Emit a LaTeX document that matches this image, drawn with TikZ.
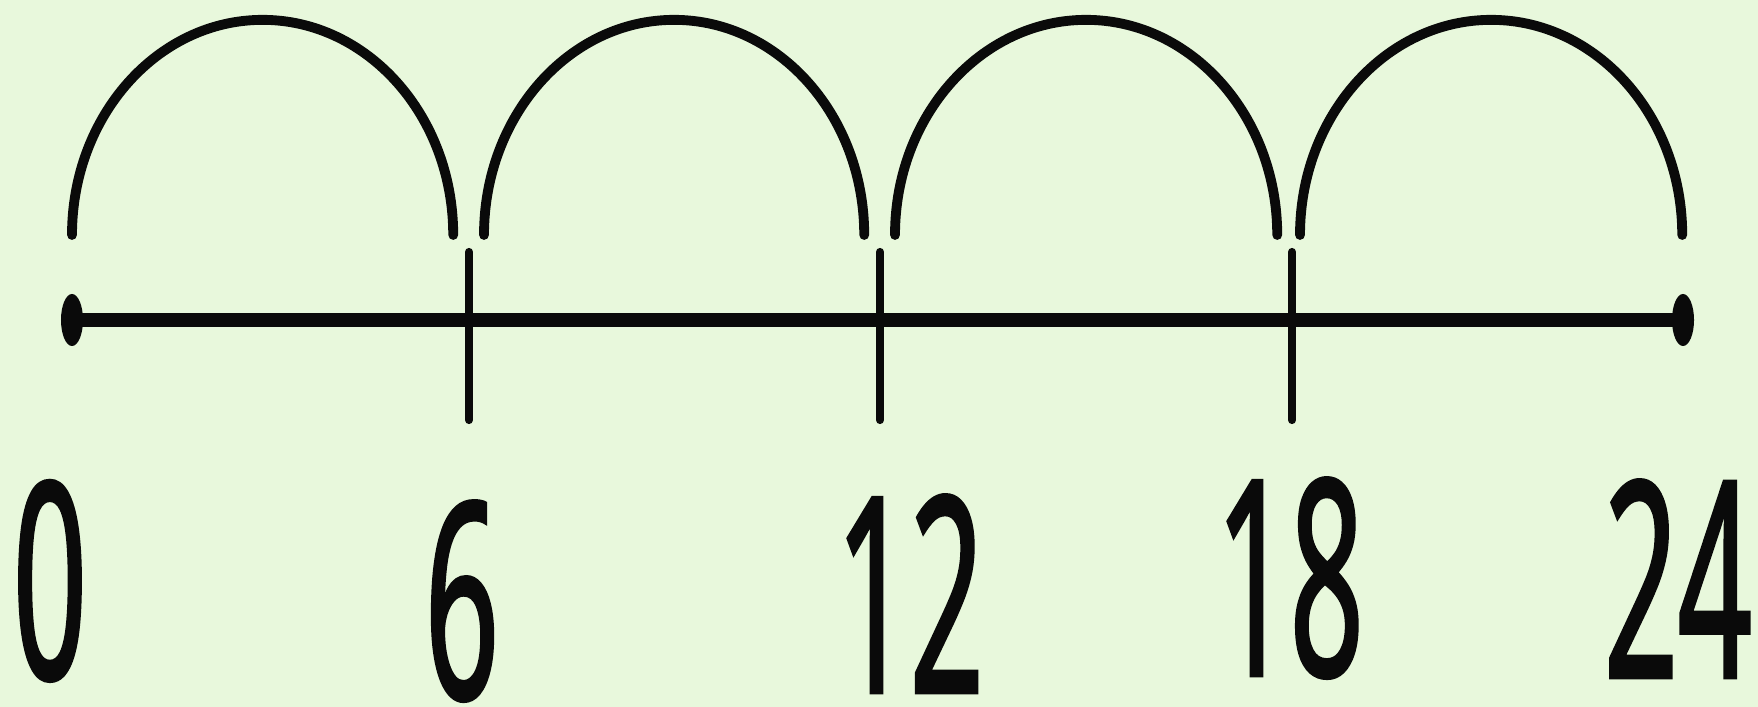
\documentclass[tikz,border=0pt]{standalone}
\usepackage{fontspec}
\newfontfamily\numfont[FakeStretch=0.47,FakeBold=1]{Noto Sans}
\usepackage{xcolor}
\definecolor{cBack}{HTML}{E8F8DC}
\definecolor{cInk}{HTML}{0A0A0A}
\usepackage{tikz}
\usetikzlibrary{positioning}
\tikzset{
  num-line/.style={draw=cInk,line width=4pt},
  num-tick/.style={draw=cInk,line width=2.3pt,line cap=round},
  num-jump/.style={draw=cInk,line width=2.8pt,line cap=round},
  num-dot/.style={fill=cInk},
  num-label/.style={anchor=base,inner sep=0pt,text=cInk,
    font=\numfont\fontsize{78}{90}\selectfont},
}

\begin{document}
\begin{tikzpicture}[x=0.01cm,y=0.01cm]
  \fill[cBack] (0,0) rectangle (1758,707);
  \useasboundingbox (0,0) rectangle (1758,707);
  % points on the line
  \coordinate (n0) at (72,387);
  \coordinate (n6) at (469,387);
  \coordinate (n12) at (880,387);
  \coordinate (n18) at (1292,387);
  \coordinate (n24) at (1683,387);
  \draw[num-line] (n0) -- (n24);
  \fill[num-dot] (n0) ellipse [x radius=0.11cm,y radius=0.26cm];
  \fill[num-dot] (n24) ellipse [x radius=0.11cm,y radius=0.26cm];
  \draw[num-tick] ([yshift=-1.0cm]n6) -- ([yshift=0.68cm]n6);
  \draw[num-tick] ([yshift=-1.0cm]n12) -- ([yshift=0.68cm]n12);
  \draw[num-tick] ([yshift=-1.0cm]n18) -- ([yshift=0.68cm]n18);
  % jumps of six
  \coordinate (j1) at (72,472);
  \coordinate (j2) at (484,472);
  \coordinate (j3) at (895,472);
  \coordinate (j4) at (1300,472);
  \draw[num-jump] (j1) arc[start angle=180,end angle=0,x radius=1.905cm,y radius=2.15cm];
  \draw[num-jump] (j2) arc[start angle=180,end angle=0,x radius=1.90cm,y radius=2.15cm];
  \draw[num-jump] (j3) arc[start angle=180,end angle=0,x radius=1.91cm,y radius=2.15cm];
  \draw[num-jump] (j4) arc[start angle=180,end angle=0,x radius=1.91cm,y radius=2.15cm];
  % labels
  \node[num-label] (l0) at (50,28) {0};
  \node[num-label] (l6) at (462,8) {6};
  \node[num-label] (l12) at (910,14) {12};
  \node[num-label] (l18) at (1290,31) {18};
  \node[num-label] (l24) at (1678,29) {24};
\end{tikzpicture}
\end{document}
